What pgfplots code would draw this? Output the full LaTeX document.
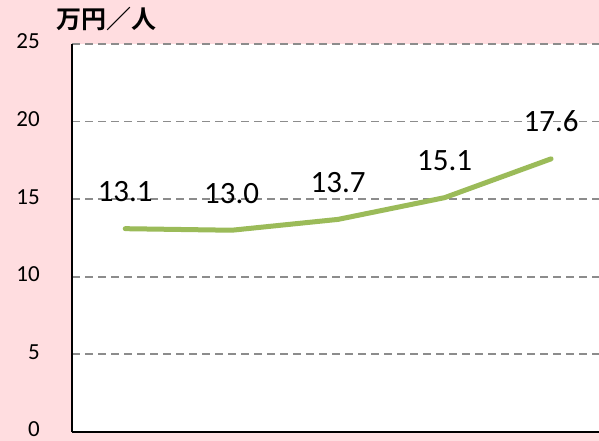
\documentclass[border=0pt]{standalone}
\usepackage{pgfplots}
\pgfplotsset{compat=1.18}
\usepackage{fontspec}
\setmainfont{Carlito}
\newfontfamily\cjk{Noto Sans CJK JP}[BoldFont={Noto Sans CJK JP Bold}]
\definecolor{bgpink}{RGB}{255,221,224}
\definecolor{lgreen}{RGB}{155,187,89}
\definecolor{gridgray}{RGB}{140,140,140}
\begin{document}
\begin{tikzpicture}
\fill[bgpink] (0,0) rectangle (599bp,441bp);
\begin{axis}[
  scale only axis,
  width=527bp, height=388bp,
  at={(72bp,9bp)}, anchor=south west,
  axis background/.style={fill=white},
  xmin=-0.5, xmax=4.45,
  ymin=0, ymax=25,
  ytick={0,5,10,15,20,25},
  xtick=\empty,
  axis x line*=bottom, axis y line*=left,
  axis line style={black, line width=2bp},
  major tick length=0pt,
  ymajorgrids,
  major grid style={gridgray, line width=1.8bp, dash pattern=on 8bp off 5bp},
  /pgf/number format/assume math mode=true,
  yticklabel style={font=\fontsize{23bp}{26bp}\selectfont, inner sep=0pt, anchor=east, xshift=-32bp, yshift=2.5bp},
  nodes near coords,
  nodes near coords style={text=black, font=\fontsize{31bp}{34bp}\selectfont, anchor=base, inner sep=0pt, yshift=27bp, /pgf/number format/fixed, /pgf/number format/fixed zerofill, /pgf/number format/precision=1},
  clip=false,
]
\addplot[lgreen, line width=5bp, line cap=round, line join=round] coordinates {
  (0,13.1) (1,13.0) (2,13.7) (3,15.1) (4,17.6)
};
\end{axis}
\node[font=\cjk\bfseries\fontsize{25bp}{28bp}\selectfont, inner sep=0pt] at (106bp,422bp) {万円／人};
\pgfresetboundingbox
\path[use as bounding box] (0,0) rectangle (599bp,441bp);
\end{tikzpicture}
\end{document}
